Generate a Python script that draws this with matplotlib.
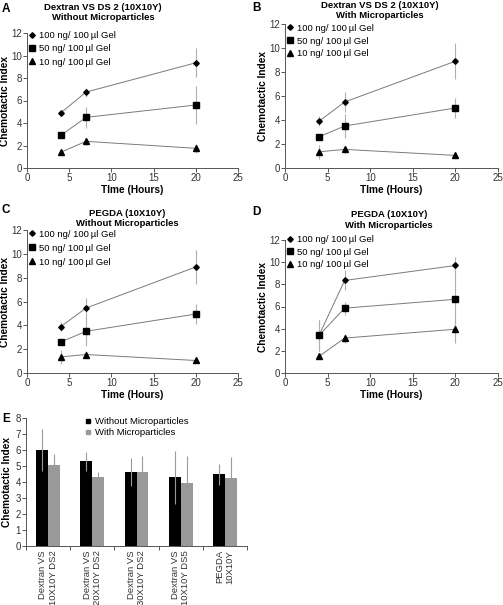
import matplotlib
matplotlib.use("Agg")
import matplotlib.pyplot as plt
from matplotlib.lines import Line2D
import numpy as np

plt.rcParams['font.family'] = ['Liberation Sans', 'DejaVu Sans']

time = [4, 7, 20]
conc_labels = ["100 ng/ 100\u2009\u00b5l Gel", "50 ng/ 100\u2009\u00b5l Gel", "10 ng/ 100\u2009\u00b5l Gel"]

# Panel A: Dextran VS DS2 without microparticles
a_100 = [4.9, 6.75, 9.35]; a_100_err = [0.3, 0.4, 1.3]
a_50 = [2.9, 4.5, 5.6];    a_50_err = [0.2, 0.9, 1.7]
a_10 = [1.4, 2.37, 1.75];  a_10_err = [0.15, 0.3, 0.4]

# Panel B: Dextran VS DS2 with microparticles
b_100 = [3.9, 5.5, 8.9];   b_100_err = [0.4, 0.85, 1.5]
b_50 = [2.6, 3.5, 5.0];    b_50_err = [0.2, 1.0, 0.8]
b_10 = [1.35, 1.55, 1.05]; b_10_err = [0.6, 0.3, 0.1]

# Panel C: PEGDA without microparticles
c_100 = [3.9, 5.45, 8.9];  c_100_err = [0.35, 0.85, 1.45]
c_50 = [2.6, 3.5, 4.95];   c_50_err = [0.2, 1.2, 0.8]
c_10 = [1.35, 1.55, 1.05]; c_10_err = [0.6, 0.3, 0.1]

# Panel D: PEGDA with microparticles
d_100 = [3.4, 8.35, 9.7];  d_100_err = [1.4, 0.9, 0.8]
d_50 = [3.4, 5.85, 6.65];  d_50_err = [1.4, 0.6, 3.5]
d_10 = [1.5, 3.15, 3.95];  d_10_err = [0.1, 0.4, 1.2]

# Panel E
e_categories = ["Dextran VS\n10X10Y DS2", "Dextran VS\n20X10Y DS2", "Dextran VS\n30X10Y DS2",
                "Dextran VS\n10X10Y DS5", "PEGDA\n10X10Y"]
e_without = [6.0, 5.3, 4.62, 4.3, 4.47]
e_without_err = [1.3, 0.6, 0.9, 1.65, 0.65]
e_with = [5.05, 4.33, 4.6, 3.93, 4.25]
e_with_err = [0.7, 0.3, 1.0, 1.7, 1.3]
e_labels = ["Without Microparticles", "With Microparticles"]

W, H = 503, 605
fig = plt.figure(figsize=(W / 100, H / 100), dpi=100)

def fx(px): return px / W
def fy(py): return 1 - py / H

def make_ax(l, t, r, b):
    return fig.add_axes([fx(l), fy(b), fx(r) - fx(l), (b - t) / H])

markers = ['D', 's', '^']
msizes = [2.8, 4.2, 3.8]
fs = 6.8
tfs = 7.0
lfs = 7.3
spine_c = '#555555'

def style_axes(ax):
    for s in ['top', 'right']:
        ax.spines[s].set_visible(False)
    for s in ['left', 'bottom']:
        ax.spines[s].set_color(spine_c)
        ax.spines[s].set_linewidth(0.7)
    ax.tick_params(labelsize=tfs, length=3.0, width=0.7, color=spine_c, labelcolor='#333333', pad=0.8)

def line_panel(ax, series, errs, xlabel, anchor_y, spacing):
    handles = []
    for vals, err, m, ms, lab in zip(series, errs, markers, msizes, conc_labels):
        ax.errorbar(time, vals, yerr=err, fmt='none', ecolor='#b0b0b0', elinewidth=0.8, capsize=0, zorder=1)
        ax.plot(time, vals, color='#7a7a7a', lw=0.7, zorder=2)
        ax.plot(time, vals, linestyle='none', marker=m, ms=ms, color='black', zorder=3)
        handles.append(Line2D([], [], linestyle='none', marker=m, ms=ms, color='black', label=lab))
    ax.set_xlim(0, 25)
    ax.set_ylim(0, 12)
    ax.set_xticks([0, 5, 10, 15, 20, 25])
    ax.set_yticks([0, 2, 4, 6, 8, 10, 12])
    style_axes(ax)
    ax.set_xlabel(xlabel, fontsize=lfs, fontweight='bold', labelpad=1.5)
    ax.set_ylabel("Chemotactic Index", fontsize=lfs, fontweight='bold', labelpad=1.0)
    ax.legend(handles=handles, loc='upper left', bbox_to_anchor=(0.0, anchor_y), frameon=False,
              fontsize=fs, handlelength=0.7, handletextpad=0.4, labelspacing=spacing, borderaxespad=0.0,
              borderpad=0.2)

axA = make_ax(27, 33, 238, 168)
line_panel(axA, [a_100, a_50, a_10], [a_100_err, a_50_err, a_10_err], "TIme (Hours)", 1.028, 0.46)
axB = make_ax(285, 24, 498, 168)
line_panel(axB, [b_100, b_50, b_10], [b_100_err, b_50_err, b_10_err], "TIme (Hours)", 1.015, 0.40)
axC = make_ax(27, 230, 238, 373)
line_panel(axC, [c_100, c_50, c_10], [c_100_err, c_50_err, c_10_err], "Time (Hours)", 1.015, 0.52)
axD = make_ax(285, 240, 498, 373)
line_panel(axD, [d_100, d_50, d_10], [d_100_err, d_50_err, d_10_err], "Time (Hours)", 1.05, 0.35)

# Titles
def title(x, y, txt):
    fig.text(fx(x), fy(y), txt, ha='center', va='center', fontsize=fs, fontweight='bold', linespacing=1.25)

title(103, 12.5, "Dextran VS DS 2 (10X10Y)\nWithout Microparticles")
title(380, 10.5, "Dextran VS DS 2 (10X10Y)\nWith Microparticles")
title(127, 218.5, "PEGDA (10X10Y)\nWithout Microparticles")
title(389, 220, "PEGDA (10X10Y)\nWith Microparticles")

# Panel letters
for lt, x, y in [("A", 2, 9), ("B", 252, 8), ("C", 2, 210), ("D", 252, 212), ("E", 2, 419)]:
    fig.text(fx(x), fy(y), lt, ha='left', va='center', fontsize=8.5, fontweight='bold')

# Panel E
axE = make_ax(26, 418, 247, 546)
x = np.arange(len(e_categories))
w = 0.27
axE.bar(x - w / 2, e_without, w, color='black', zorder=2, label=e_labels[0])
axE.bar(x + w / 2, e_with, w, color='#999999', zorder=2, label=e_labels[1])
axE.errorbar(x - w / 2, e_without, yerr=e_without_err, fmt='none', ecolor='#9a9a9a', elinewidth=0.8, capsize=0, zorder=3)
axE.errorbar(x + w / 2, e_with, yerr=e_with_err, fmt='none', ecolor='#9a9a9a', elinewidth=0.8, capsize=0, zorder=3)
axE.set_xlim(-0.5, len(e_categories) - 0.5)
axE.set_ylim(0, 8)
axE.set_yticks(range(0, 9))
style_axes(axE)
axE.set_xticks(x)
axE.set_xticklabels(e_categories, rotation=90, ha='center', va='top', multialignment='right', fontsize=fs)
axE.set_xticks(np.arange(-0.5, len(e_categories), 1.0), minor=True)
axE.tick_params(axis='x', which='major', length=0, pad=3)
axE.tick_params(axis='x', which='minor', length=3.0, width=0.7, color=spine_c)
axE.set_ylabel("Chemotactic Index", fontsize=lfs, fontweight='bold', labelpad=2)
eh = [Line2D([], [], linestyle='none', marker='s', ms=3.5, color='black'),
      Line2D([], [], linestyle='none', marker='s', ms=3.5, color='#999999')]
axE.legend(eh, e_labels, loc='upper left', bbox_to_anchor=(0.258, 1.019), frameon=False, fontsize=fs,
           handlelength=0.6, handletextpad=0.5, labelspacing=0.2, borderaxespad=0.0, borderpad=0.2)

fig.savefig("out.png", dpi=100)
